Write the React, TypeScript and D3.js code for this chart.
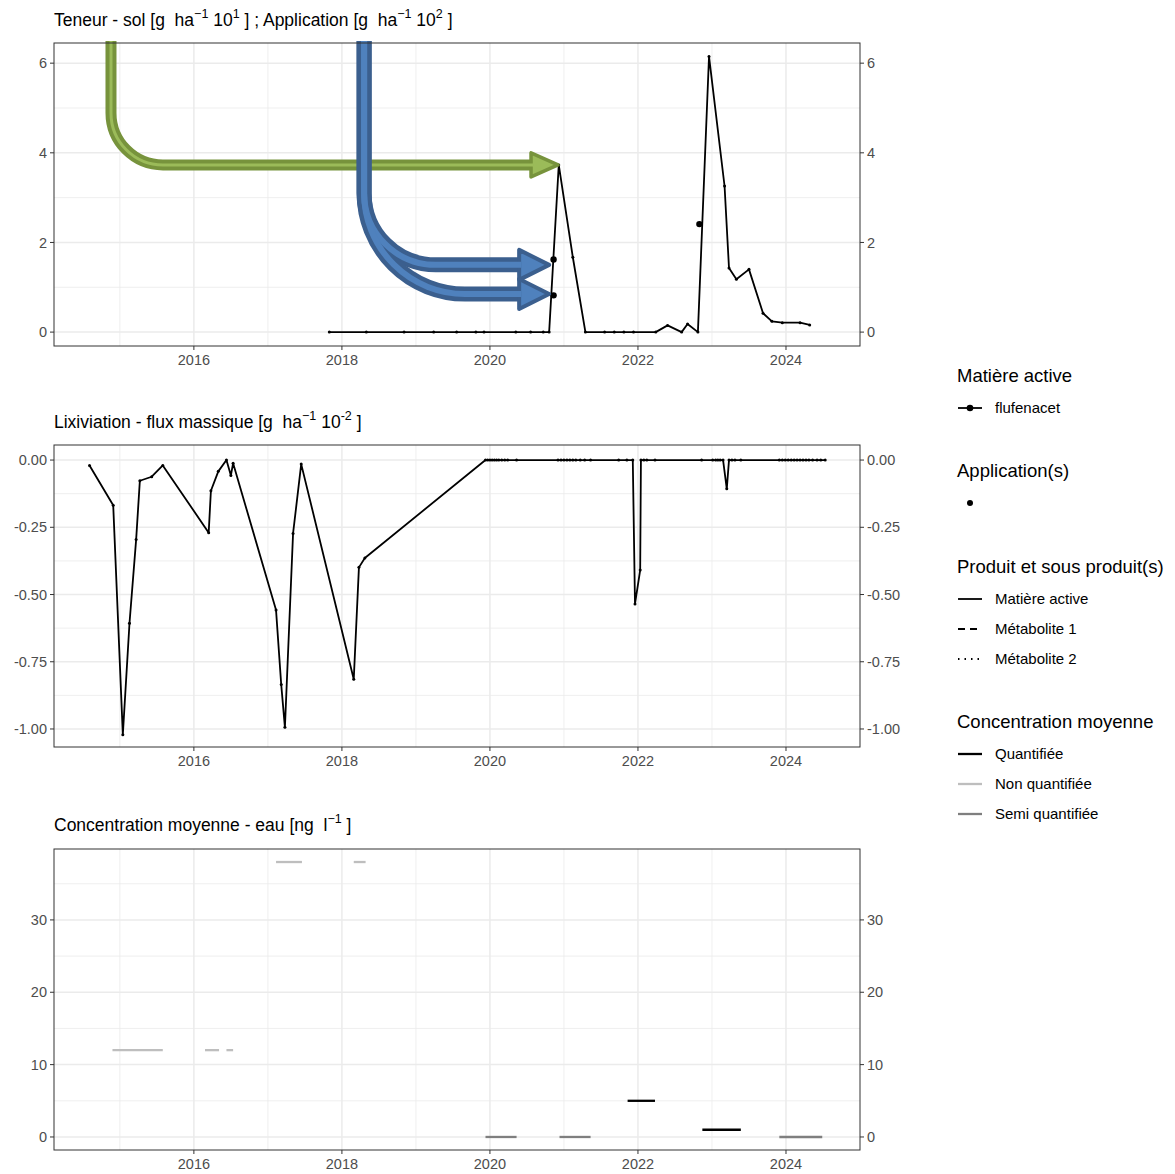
import React from 'react';
import * as d3 from 'd3';

// ---- data ----
const soilYears = [2017.83, 2018.33, 2018.84, 2019.24, 2019.55, 2019.81, 2019.92, 2020.35, 2020.55, 2020.72, 2020.80, 2020.93, 2021.12, 2021.29, 2021.55, 2021.68, 2021.81, 2021.94, 2022.24, 2022.40, 2022.59, 2022.67, 2022.81, 2022.96, 2023.17, 2023.23, 2023.33, 2023.50, 2023.69, 2023.81, 2023.95, 2024.19, 2024.32];
const soilValues = [0, 0, 0, 0, 0, 0, 0, 0, 0, 0, 0, 3.73, 1.67, 0, 0, 0, 0, 0, 0, 0.15, 0, 0.18, 0, 6.15, 3.26, 1.43, 1.18, 1.40, 0.42, 0.24, 0.21, 0.21, 0.16];

const appYears = [2020.86, 2020.86, 2022.83];
const appValues = [1.62, 0.82, 2.41];

const leachYears = [2014.59, 2014.91, 2015.04, 2015.13, 2015.22, 2015.27, 2015.43, 2015.58, 2016.20, 2016.23, 2016.33, 2016.44, 2016.50, 2016.53, 2017.11, 2017.18, 2017.23, 2017.34, 2017.45, 2018.16, 2018.23, 2018.31,
  2019.94, 2019.97, 2020.00, 2020.03, 2020.06, 2020.09, 2020.12, 2020.16, 2020.20, 2020.24, 2020.36,
  2020.92, 2020.96, 2021.00, 2021.04, 2021.08, 2021.12, 2021.16, 2021.22, 2021.28, 2021.36,
  2021.74, 2021.85, 2021.93, 2021.96, 2022.03, 2022.04, 2022.08, 2022.12, 2022.23,
  2022.86, 2023.01, 2023.05, 2023.08, 2023.11, 2023.15, 2023.20, 2023.23, 2023.27, 2023.31, 2023.39,
  2023.91, 2023.95, 2023.99, 2024.03, 2024.07, 2024.11, 2024.15, 2024.19, 2024.23, 2024.27, 2024.31, 2024.36, 2024.42, 2024.47, 2024.53];
const leachValues = [-0.020, -0.168, -1.021, -0.607, -0.295, -0.077, -0.062, -0.020, -0.270, -0.114, -0.042, 0.0, -0.057, -0.012, -0.558, -0.835, -0.994, -0.273, -0.015, -0.815, -0.399, -0.364,
  0, 0, 0, 0, 0, 0, 0, 0, 0, 0, 0,
  0, 0, 0, 0, 0, 0, 0, 0, 0, 0,
  0, 0, 0, -0.535, -0.409, 0, 0, 0, 0,
  0, 0, 0, 0, 0, 0, -0.107, 0, 0, 0, 0,
  0, 0, 0, 0, 0, 0, 0, 0, 0, 0, 0, 0, 0, 0, 0];

const concStart = [2014.90, 2016.15, 2016.44, 2017.11, 2018.16, 2019.94, 2020.94, 2021.86, 2022.87, 2023.91];
const concEnd = [2015.58, 2016.34, 2016.53, 2017.46, 2018.32, 2020.36, 2021.36, 2022.23, 2023.39, 2024.49];
const concValues = [12, 12, 12, 38, 38, 0, 0, 5, 1, 0];
const concStatus = ['Non quantifiée', 'Non quantifiée', 'Non quantifiée', 'Non quantifiée', 'Non quantifiée', 'Semi quantifiée', 'Semi quantifiée', 'Quantifiée', 'Quantifiée', 'Semi quantifiée'];
const statusColor: Record<string, string> = { 'Quantifiée': '#000000', 'Non quantifiée': '#BEBEBE', 'Semi quantifiée': '#7F7F7F' };

const xTicks = [2016, 2018, 2020, 2022, 2024];
const xMinor = [2015, 2017, 2019, 2021, 2023];

// annotation arrows, in data units
const greenArrow = { x0: 2014.88, xTip: 2020.92, y: 3.73, r: 52 };
const blueArrows = [
  { x0: 2018.30, xTip: 2020.80, y: 1.50, split: 3.10 },
  { x0: 2018.30, xTip: 2020.80, y: 0.85, split: 3.10 },
];

const FONT = '"Liberation Sans", Arial, Helvetica, sans-serif';
const W = 1175, H = 1174;
const left = 54, right = 860;
const TICK_FS = 14.5;

const x = d3.scaleLinear().domain([2014.11, 2025.0]).range([left, right]);

type PanelProps = {
  top: number; bottom: number; domain: [number, number];
  ticks: number[]; minor: number[]; fmt: (v: number) => string;
  children?: React.ReactNode;
};

function Panel({ top, bottom, domain, ticks, minor, fmt, children }: PanelProps) {
  const y = d3.scaleLinear().domain(domain).range([bottom, top]);
  return (
    <g>
      <rect x={left} y={top} width={right - left} height={bottom - top} fill="#fff" />
      {minor.map(v => <line key={'ym' + v} x1={left} x2={right} y1={y(v)} y2={y(v)} stroke="#EBEBEB" strokeWidth={0.8} />)}
      {xMinor.map(v => <line key={'xm' + v} x1={x(v)} x2={x(v)} y1={top} y2={bottom} stroke="#EBEBEB" strokeWidth={0.8} />)}
      {ticks.map(v => <line key={'yM' + v} x1={left} x2={right} y1={y(v)} y2={y(v)} stroke="#EBEBEB" strokeWidth={1.5} />)}
      {xTicks.map(v => <line key={'xM' + v} x1={x(v)} x2={x(v)} y1={top} y2={bottom} stroke="#EBEBEB" strokeWidth={1.5} />)}
      {children}
      <rect x={left} y={top} width={right - left} height={bottom - top} fill="none" stroke="#333" strokeWidth={1} />
      {ticks.map(v => (
        <g key={'t' + v} fontFamily={FONT} fontSize={TICK_FS} fill="#4D4D4D">
          <line x1={left - 4} x2={left} y1={y(v)} y2={y(v)} stroke="#333" />
          <line x1={right} x2={right + 4} y1={y(v)} y2={y(v)} stroke="#333" />
          <text x={left - 7} y={y(v)} dy="0.35em" textAnchor="end">{fmt(v)}</text>
          <text x={right + 7} y={y(v)} dy="0.35em">{fmt(v)}</text>
        </g>
      ))}
      {xTicks.map(v => (
        <g key={'xt' + v} fontFamily={FONT} fontSize={TICK_FS} fill="#4D4D4D">
          <line x1={x(v)} x2={x(v)} y1={bottom} y2={bottom + 4} stroke="#333" />
          <text x={x(v)} y={bottom + 19} textAnchor="middle">{v}</text>
        </g>
      ))}
    </g>
  );
}

function Sup({ t }: { t: string }) {
  return <tspan fontSize={12.5} dy={-8}>{t}</tspan>;
}
function Base({ t }: { t: string }) {
  return <tspan dy={8}>{t}</tspan>;
}

function headPath(xt: number, yt: number, len: number, half: number) {
  return `M${xt},${yt} L${xt - len},${yt - half} L${xt - len},${yt + half} Z`;
}

export default function App() {
  // panel 1
  const y1 = d3.scaleLinear().domain([-0.31, 6.45]).range([346, 43]);
  const soilPts = soilYears.map((t, i) => [x(t), y1(soilValues[i])] as [number, number]);
  const line = d3.line();

  // panel 2
  const y2 = d3.scaleLinear().domain([-1.067, 0.056]).range([747, 445]);
  const leachPts = leachYears.map((t, i) => [x(t), y2(leachValues[i])] as [number, number]);

  // panel 3
  const y3 = d3.scaleLinear().domain([-1.8, 39.8]).range([1150, 849]);

  // arrows
  const gx = x(greenArrow.x0), gy = y1(greenArrow.y), gTip = x(greenArrow.xTip);
  const gHeadLen = 27, gHalf = 12;
  const gp = d3.path();
  gp.moveTo(gx, 41);
  gp.lineTo(gx, gy - greenArrow.r);
  gp.arcTo(gx, gy, gx + greenArrow.r, gy, greenArrow.r);
  gp.lineTo(gTip - gHeadLen + 2, gy);

  const blue = blueArrows.map(a => {
    const bx = x(a.x0), by = y1(a.y), bs = y1(a.split), bt = x(a.xTip);
    const r = by - bs;
    const p = d3.path();
    p.moveTo(bx, 41);
    p.lineTo(bx, bs);
    p.arcTo(bx, by, bx + r, by, r);
    p.lineTo(bt - 28, by);
    return { d: p.toString(), head: headPath(bt, by, 30, 15) };
  });

  const legendX = 957;
  const keyL = 958, keyR = 982, labX = 995;

  return (
    <div style={{ position: 'absolute', left: 0, top: 0 }}>
      <svg width={W} height={H} style={{ display: 'block', background: '#fff' }}>
        <rect width={W} height={H} fill="#fff" />

        {/* titles */}
        <text x={54} y={26} fontFamily={FONT} fontSize={17.5} fill="#000" style={{ whiteSpace: 'pre' }}>
          <tspan>{'Teneur - sol [g  ha'}</tspan><Sup t="−1" /><Base t=" 10" /><Sup t="1" /><Base t=" ] ; Application [g  ha" /><Sup t="−1" /><Base t=" 10" /><Sup t="2" /><Base t=" ]" />
        </text>
        <text x={54} y={428} fontFamily={FONT} fontSize={17.5} fill="#000" style={{ whiteSpace: 'pre' }}>
          <tspan>{'Lixiviation - flux massique [g  ha'}</tspan><Sup t="−1" /><Base t=" 10" /><Sup t="-2" /><Base t=" ]" />
        </text>
        <text x={54} y={831} fontFamily={FONT} fontSize={17.5} fill="#000" style={{ whiteSpace: 'pre' }}>
          <tspan>{'Concentration moyenne - eau [ng  l'}</tspan><Sup t="−1" /><Base t=" ]" />
        </text>

        {/* panel 1 */}
        <Panel top={43} bottom={346} domain={[-0.31, 6.45]} ticks={[0, 2, 4, 6]} minor={[1, 3, 5]} fmt={v => String(v)}>
          <path d={line(soilPts) ?? ''} fill="none" stroke="#000" strokeWidth={1.8} strokeLinejoin="round" />
          {soilPts.map((p, i) => <circle key={i} cx={p[0]} cy={p[1]} r={1.5} fill="#000" />)}
          {appYears.map((t, i) => <circle key={'a' + i} cx={x(t)} cy={y1(appValues[i])} r={3.2} fill="#000" />)}

          {/* green annotation arrow */}
          <path d={gp.toString()} fill="none" stroke="#77933C" strokeWidth={11} />
          <path d={headPath(gTip, gy, gHeadLen, gHalf)} fill="#9BBB59" stroke="#77933C" strokeWidth={3.5} strokeLinejoin="round" />
          <path d={gp.toString()} fill="none" stroke="#9BBB59" strokeWidth={3} />

          {/* blue annotation arrows */}
          {blue.map((b, i) => <path key={'bo' + i} d={b.d} fill="none" stroke="#3B5F8E" strokeWidth={15} />)}
          {blue.map((b, i) => <path key={'bh' + i} d={b.head} fill="#4F81BD" stroke="#3B5F8E" strokeWidth={4} strokeLinejoin="round" />)}
          {blue.map((b, i) => <path key={'bi' + i} d={b.d} fill="none" stroke="#4F81BD" strokeWidth={6} />)}
        </Panel>

        {/* panel 2 */}
        <Panel top={445} bottom={747} domain={[-1.067, 0.056]} ticks={[0, -0.25, -0.5, -0.75, -1]} minor={[-0.125, -0.375, -0.625, -0.875]} fmt={v => d3.format('.2f')(v).replace('−', '-')}>
          <path d={line(leachPts) ?? ''} fill="none" stroke="#000" strokeWidth={1.8} strokeLinejoin="round" />
          {leachPts.map((p, i) => <circle key={i} cx={p[0]} cy={p[1]} r={1.5} fill="#000" />)}
        </Panel>

        {/* panel 3 */}
        <Panel top={849} bottom={1150} domain={[-1.8, 39.8]} ticks={[0, 10, 20, 30]} minor={[5, 15, 25, 35]} fmt={v => String(v)}>
          {concStart.map((s, i) => (
            <line key={i} x1={x(s)} x2={x(concEnd[i])} y1={y3(concValues[i])} y2={y3(concValues[i])} stroke={statusColor[concStatus[i]]} strokeWidth={2.3} />
          ))}
        </Panel>

        {/* legends */}
        <g fontFamily={FONT} fill="#000">
          <text x={legendX} y={382} fontSize={18.5}>Matière active</text>
          <line x1={keyL} x2={keyR} y1={408} y2={408} stroke="#000" strokeWidth={1.8} />
          <circle cx={(keyL + keyR) / 2} cy={408} r={3.3} fill="#000" />
          <text x={labX} y={413} fontSize={15}>flufenacet</text>

          <text x={legendX} y={477} fontSize={18.5}>Application(s)</text>
          <circle cx={970} cy={503} r={3} fill="#000" />

          <text x={legendX} y={573} fontSize={18.5}>Produit et sous produit(s)</text>
          <line x1={keyL} x2={keyR} y1={599} y2={599} stroke="#000" strokeWidth={1.8} />
          <text x={labX} y={604} fontSize={15}>Matière active</text>
          <line x1={keyL} x2={keyR} y1={629} y2={629} stroke="#000" strokeWidth={1.8} strokeDasharray="7,5" />
          <text x={labX} y={634} fontSize={15}>Métabolite 1</text>
          <line x1={keyL} x2={keyR} y1={659} y2={659} stroke="#000" strokeWidth={1.8} strokeDasharray="1.5,5" />
          <text x={labX} y={664} fontSize={15}>Métabolite 2</text>

          <text x={legendX} y={728} fontSize={18.5}>Concentration moyenne</text>
          {['Quantifiée', 'Non quantifiée', 'Semi quantifiée'].map((s, i) => (
            <g key={s}>
              <line x1={keyL} x2={keyR} y1={754 + i * 30} y2={754 + i * 30} stroke={statusColor[s]} strokeWidth={2.3} />
              <text x={labX} y={759 + i * 30} fontSize={15}>{s}</text>
            </g>
          ))}
        </g>
      </svg>
    </div>
  );
}
